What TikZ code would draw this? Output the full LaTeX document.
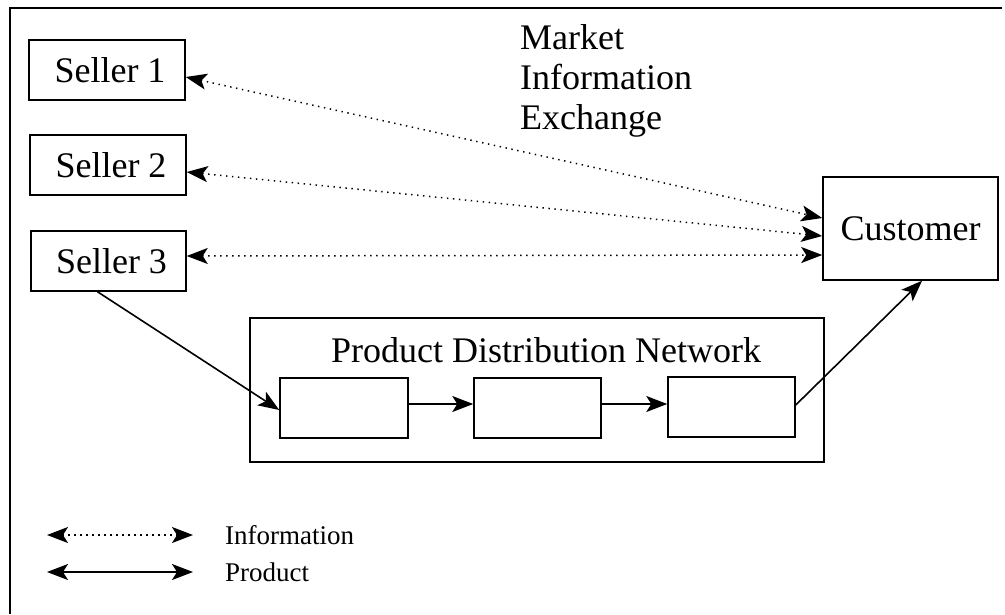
\documentclass[tikz,border=0pt]{standalone}
\usepackage{fontspec}
\setmainfont{Liberation Serif}
\usetikzlibrary{arrows.meta}
\begin{document}
\begin{tikzpicture}[x=1pt,y=-1pt,
  box/.style={draw,line width=1.5pt,inner sep=0pt,font=\fontsize{36}{40}\selectfont},
  bigtext/.style={font=\fontsize{36}{40}\selectfont,inner sep=0pt},
  legtext/.style={font=\fontsize{27}{30}\selectfont,inner sep=0pt,anchor=west},
  info/.style={line width=1.5pt,dash pattern=on 1.4pt off 4.6pt,{Stealth[length=21pt,width=16pt,inset=5pt]}-{Stealth[length=21pt,width=16pt,inset=5pt]}},
  prod/.style={line width=1.6pt,-{Stealth[length=21pt,width=16pt,inset=5pt]}},
  prodboth/.style={line width=1.6pt,{Stealth[length=21pt,width=16pt,inset=5pt]}-{Stealth[length=21pt,width=16pt,inset=5pt]}}]
\useasboundingbox (0,0) rectangle (1005,614);
% frame
\coordinate (fr1) at (1002,8);
\coordinate (fr2) at (10,8);
\coordinate (fr3) at (10,614);
\draw[line width=1.5pt] (fr1) -- (fr2) -- (fr3);
% sellers
\node[box,minimum width=156pt,minimum height=60pt] (s1) at (107,70) {\hspace{6pt}Seller 1};
\node[box,minimum width=156pt,minimum height=60pt] (s2) at (108,165) {\hspace{6pt}Seller 2};
\node[box,minimum width=155pt,minimum height=60pt] (s3) at (108.5,261) {\hspace{6pt}Seller 3};
% customer
\node[box,minimum width=175pt,minimum height=103pt] (cust) at (910.5,228.5) {Customer};
% market info text
\node[bigtext,anchor=north west,align=left] (mie) at (520,24) {Market\\Information\\Exchange};
% PDN
\node[draw,line width=1.5pt,minimum width=574pt,minimum height=144pt,inner sep=0pt] (pdn) at (537,390) {};
\node[bigtext] (pdnlabel) at (546,350) {Product Distribution Network};
\node[box,minimum width=128pt,minimum height=60pt] (b1) at (344,408) {};
\node[box,minimum width=127pt,minimum height=60pt] (b2) at (537.5,408) {};
\node[box,minimum width=127pt,minimum height=60pt] (b3) at (731.5,407) {};
% information arrows
\draw[info] ([yshift=-7pt]s1.east) -- ([yshift=10.5pt]cust.west);
\draw[info] ([yshift=-7pt]s2.east) -- ([yshift=-7.5pt]cust.west);
\draw[info] ([yshift=5pt]s3.east) -- ([yshift=-26.5pt]cust.west);
% product arrows
\draw[prod] ([xshift=-11pt]s3.south) -- ([yshift=-2pt]b1.west);
\draw[prod] ([yshift=4pt]b1.east) -- ([yshift=4pt]b2.west);
\draw[prod] ([yshift=4pt]b2.east) -- ([yshift=3pt]b3.west);
\draw[prod] ([yshift=2pt]b3.east) -- ([xshift=11.5pt]cust.south);
% legend
\coordinate (l1a) at (47,535);
\coordinate (l1b) at (193,535);
\coordinate (l2a) at (47,572);
\coordinate (l2b) at (193,572);
\draw[info] (l1a) -- (l1b);
\draw[prodboth] (l2a) -- (l2b);
\node[legtext] (lt1) at (225,535) {Information};
\node[legtext] (lt2) at (225,572) {Product};
\end{tikzpicture}
\end{document}
